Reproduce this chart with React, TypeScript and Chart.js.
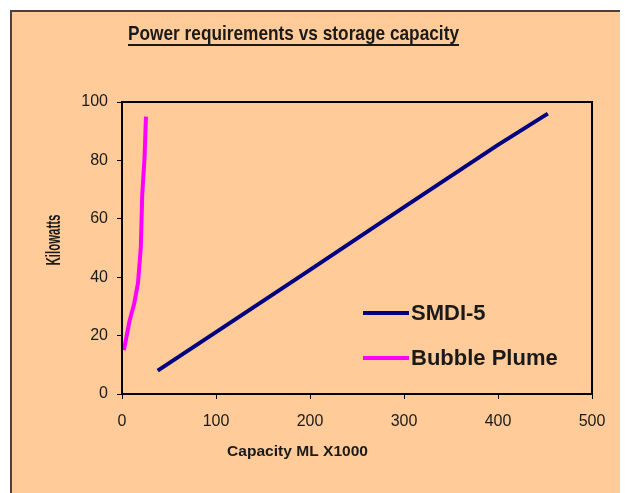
import React, { useEffect, useRef } from 'react';
import { Chart, registerables } from 'chart.js';

Chart.register(...registerables);

const chartTitle = 'Power requirements vs storage capacity';
const xAxisTitle = 'Capacity ML X1000';
const yAxisTitle = 'Kilowatts';
const seriesNames = ['SMDI-5', 'Bubble Plume'];
const seriesColors = ['#000080', '#FF00FF'];
const smdiX = [38, 100, 200, 300, 400, 453];
const smdiY = [8, 21.2, 42.5, 64, 85.3, 96];
const bubbleX = [2, 8, 13, 17, 20, 21.5, 24, 25.5];
const bubbleY = [15, 25, 31, 38, 50, 68, 81, 95];
const xTickMin = 0;
const xTickMax = 500;
const xTickStep = 100;
const yTickMin = 0;
const yTickMax = 100;
const yTickStep = 20;

const BG = '#FFCC99';
const TEXT = '#1a1a1a';
const FONT = '"Liberation Sans", Arial, sans-serif';

function drawScaledText(ctx: CanvasRenderingContext2D, text: string, font: string, x: number, y: number, targetW: number, rot = 0) {
  ctx.save();
  ctx.font = font;
  const w = ctx.measureText(text).width;
  ctx.translate(x, y);
  if (rot) ctx.rotate(rot);
  ctx.scale(targetW / w, 1);
  ctx.textAlign = 'center';
  ctx.textBaseline = 'middle';
  ctx.fillStyle = TEXT;
  ctx.fillText(text, 0, 0);
  ctx.restore();
}

const decor = {
  id: 'decor',
  beforeDraw(chart: any) {
    const { ctx, width, height } = chart;
    ctx.save();
    ctx.fillStyle = '#ffffff';
    ctx.fillRect(0, 0, width, height);
    ctx.fillStyle = BG;
    ctx.fillRect(3, 3, width, height);
    ctx.strokeStyle = '#4a4040';
    ctx.lineWidth = 2;
    ctx.strokeRect(3, 3, width + 20, height + 20);
    ctx.restore();
  },
  afterDraw(chart: any) {
    const { ctx, chartArea: a } = chart;
    ctx.save();
    ctx.strokeStyle = '#000';
    ctx.lineWidth = 2;
    ctx.strokeRect(a.left, a.top, a.right - a.left, a.bottom - a.top);

    // main title with underline
    const tw = 331;
    const tcx = 285.5;
    ctx.save();
    ctx.font = 'bold 21px ' + FONT;
    const mw = ctx.measureText(chartTitle).width;
    ctx.translate(tcx, 32);
    ctx.scale(tw / mw, 1);
    ctx.textAlign = 'center';
    ctx.textBaseline = 'alphabetic';
    ctx.fillStyle = TEXT;
    ctx.fillText(chartTitle, 0, 0);
    ctx.restore();
    ctx.fillStyle = TEXT;
    ctx.fillRect(tcx - tw / 2, 36, tw, 2);

    // axis titles
    drawScaledText(ctx, xAxisTitle, 'bold 15px ' + FONT, 289.5, 444, 141);
    drawScaledText(ctx, yAxisTitle, 'bold 20px ' + FONT, 46, 232, 51, -Math.PI / 2);

    // legend
    chart.data.datasets.forEach((ds: any, i: number) => {
      const y = a.top + 211 + i * 45;
      ctx.strokeStyle = ds.borderColor;
      ctx.lineWidth = 4;
      ctx.beginPath();
      ctx.moveTo(a.left + 241, y);
      ctx.lineTo(a.left + 287, y);
      ctx.stroke();
      ctx.font = 'bold 22px ' + FONT;
      ctx.fillStyle = TEXT;
      ctx.textAlign = 'left';
      ctx.textBaseline = 'middle';
      ctx.fillText(ds.label, a.left + 289, y + 1);
    });
    ctx.restore();
  },
};

export default function App() {
  const ref = useRef<HTMLCanvasElement | null>(null);
  useEffect(() => {
    if (!ref.current) return;
    const chart = new Chart(ref.current, {
      type: 'line',
      data: {
        datasets: [
          {
            label: seriesNames[0],
            data: smdiX.map((x, i) => ({ x, y: smdiY[i] })),
            borderColor: seriesColors[0],
            backgroundColor: seriesColors[0],
            borderWidth: 4,
            pointRadius: 0,
            tension: 0,
          },
          {
            label: seriesNames[1],
            data: bubbleX.map((x, i) => ({ x, y: bubbleY[i] })),
            borderColor: seriesColors[1],
            backgroundColor: seriesColors[1],
            borderWidth: 4,
            pointRadius: 0,
            tension: 0,
          },
        ],
      },
      options: {
        responsive: false,
        animation: false,
        layout: { padding: { top: 94, right: 36, left: 0, bottom: 29 } },
        plugins: { legend: { display: false }, title: { display: false }, tooltip: { enabled: false } },
        scales: {
          x: {
            type: 'linear',
            min: xTickMin,
            max: xTickMax,
            afterFit: (s: any) => { s.height = 70; },
            ticks: { stepSize: xTickStep, color: '#1a1a1a', font: { family: FONT, size: 16 }, padding: 13, maxRotation: 0 },
            grid: { drawOnChartArea: false, drawTicks: true, tickLength: 5, tickColor: '#000', color: '#000' },
            border: { display: true, color: '#000', width: 2 },
          },
          y: {
            type: 'linear',
            min: yTickMin,
            max: yTickMax,
            afterFit: (s: any) => { s.width = 114; },
            ticks: { stepSize: yTickStep, color: '#1a1a1a', font: { family: FONT, size: 16 }, padding: 9 },
            grid: { drawOnChartArea: false, drawTicks: true, tickLength: 5, tickColor: '#000', color: '#000' },
            border: { display: true, color: '#000', width: 2 },
          },
        },
      },
      plugins: [decor],
    });
    return () => chart.destroy();
  }, []);
  return (
    <div style={{ width: 620, height: 485 }}>
      <canvas ref={ref} width={620} height={485} style={{ display: 'block', width: 620, height: 485 }} />
    </div>
  );
}
